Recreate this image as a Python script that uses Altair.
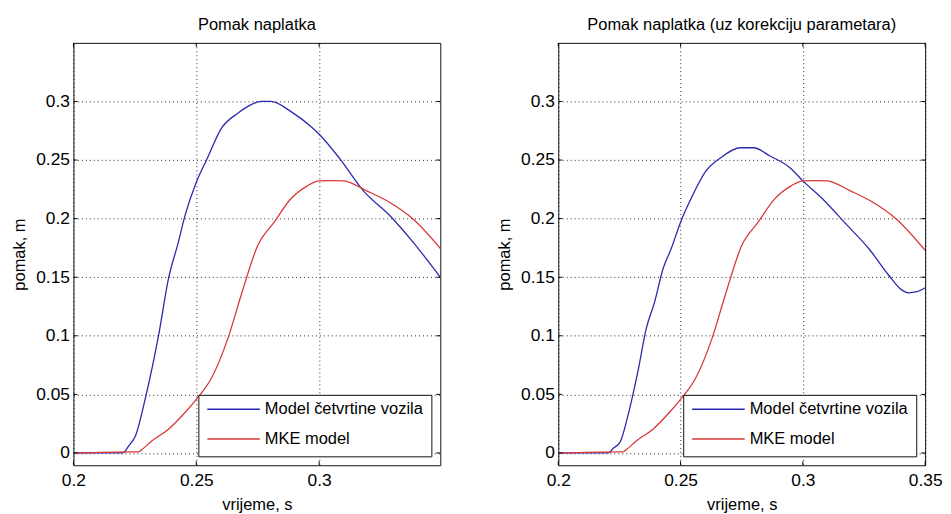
import altair as alt
import pandas as pd

FONT = "Liberation Sans"
SERIES = ["Model četvrtine vozila", "MKE model"]
COLORS = ["#2a2aae", "#d83838"]

Y_TICKS = [0, 0.05, 0.1, 0.15, 0.2, 0.25, 0.3]
X_TICKS_LEFT = [0.2, 0.25, 0.3]
X_TICKS_RIGHT = [0.2, 0.25, 0.3, 0.35]
Y_DOMAIN = [-0.0105, 0.35]
X_MAX_LEFT = 0.3493
X_MAX_RIGHT = 0.35

# Left panel, blue (Model četvrtine vozila)
blue_left_t = [0.200, 0.220, 0.2225, 0.2253, 0.2293, 0.2347, 0.2387, 0.2427, 0.2454, 0.2500,
               0.2543, 0.2602, 0.2669, 0.2710, 0.2763, 0.2804, 0.2884, 0.2965, 0.3000, 0.3086,
               0.3180, 0.3288, 0.3382, 0.3493]
blue_left_y = [0.0, 0.0, 0.006, 0.015, 0.047, 0.101, 0.149, 0.180, 0.2025, 0.231,
               0.2506, 0.277, 0.290, 0.2958, 0.300, 0.300, 0.2915, 0.2788, 0.272, 0.2506,
               0.2237, 0.2025, 0.180, 0.150]

# Right panel, blue (after parameter correction)
blue_right_t = [0.200, 0.2205, 0.2225, 0.2252, 0.2286, 0.2326, 0.2360, 0.2394, 0.2428, 0.2461,
                0.2500, 0.2542, 0.2604, 0.2664, 0.2745, 0.2799, 0.2866, 0.2947, 0.3000, 0.3081,
                0.3176, 0.3270, 0.3351, 0.3405, 0.3432, 0.3466, 0.3500]
blue_right_y = [0.0, 0.0, 0.004, 0.009, 0.033, 0.070, 0.1065, 0.129, 0.157, 0.174,
                0.197, 0.2167, 0.2407, 0.252, 0.2605, 0.2605, 0.2534, 0.2435, 0.2322, 0.2167,
                0.1955, 0.1743, 0.1517, 0.139, 0.1367, 0.1376, 0.141]

# Red (MKE model), same in both panels
red_t = [0.200, 0.2245, 0.2265, 0.2273, 0.2320, 0.2387, 0.2454, 0.2500, 0.2562, 0.2629,
         0.2683, 0.2750, 0.2817, 0.2884, 0.2952, 0.3000, 0.3050, 0.3099, 0.3194, 0.3288,
         0.3382, 0.3500]
red_y = [0.0, 0.001, 0.001, 0.002, 0.0105, 0.0203, 0.0345, 0.0458, 0.064, 0.098,
         0.135, 0.177, 0.197, 0.2167, 0.228, 0.2322, 0.2325, 0.2322, 0.2237, 0.2138,
         0.1997, 0.1729]

W, H = 370, 426
TICK = 4


def panel(title, bt, by, rt, ry, xmax, xticks):
    rows = []
    for i, (t, y) in enumerate(zip(bt, by)):
        rows.append({"t": t, "y": y, "series": SERIES[0], "ord": i})
    for i, (t, y) in enumerate(zip(rt, ry)):
        rows.append({"t": t, "y": y, "series": SERIES[1], "ord": i})
    df = pd.DataFrame(rows)
    xscale = alt.Scale(domain=[0.2, xmax], nice=False, zero=False)
    yscale = alt.Scale(domain=Y_DOMAIN, nice=False, zero=False)
    xaxis = alt.Axis(values=xticks, format=".2~f", title="vrijeme, s")
    yaxis = alt.Axis(values=Y_TICKS, format=".2~f", title="pomak, m")

    lines = alt.Chart(df).mark_line(strokeWidth=1.3, clip=True, interpolate="monotone").encode(
        x=alt.X("t:Q", scale=xscale, axis=xaxis),
        y=alt.Y("y:Q", scale=yscale, axis=yaxis),
        color=alt.Color("series:N", scale=alt.Scale(domain=SERIES, range=COLORS),
                        title=None,
                        legend=alt.Legend(orient="bottom-right", offset=9,
                                          strokeColor="#111111", fillColor="white",
                                          padding=8, symbolType="stroke",
                                          symbolSize=2809, symbolStrokeWidth=1.3,
                                          clipHeight=13, rowPadding=12,
                                          labelFontSize=16.6, labelOffset=4,
                                          labelLimit=400, labelFont=FONT,
                                          labelColor="black")),
        order="ord:Q",
    )

    ydf = pd.DataFrame({"y": Y_TICKS})
    xdf = pd.DataFrame({"t": xticks})
    yl = alt.Chart(ydf).mark_rule(color="black", strokeWidth=1).encode(
        y=alt.Y("y:Q", scale=yscale, axis=yaxis), x=alt.value(0), x2=alt.value(TICK))
    yr = alt.Chart(ydf).mark_rule(color="black", strokeWidth=1).encode(
        y=alt.Y("y:Q", scale=yscale, axis=yaxis), x=alt.value(W - TICK), x2=alt.value(W))
    xb = alt.Chart(xdf).mark_rule(color="black", strokeWidth=1).encode(
        x=alt.X("t:Q", scale=xscale, axis=xaxis), y=alt.value(H - TICK), y2=alt.value(H))
    xt = alt.Chart(xdf).mark_rule(color="black", strokeWidth=1).encode(
        x=alt.X("t:Q", scale=xscale, axis=xaxis), y=alt.value(0), y2=alt.value(TICK))

    return alt.layer(lines, yl, yr, xb, xt).properties(
        width=W, height=H,
        title=alt.TitleParams(title, fontSize=16.6, fontWeight="normal", font=FONT,
                              color="black", offset=8.5),
    )


left = panel("Pomak naplatka", blue_left_t, blue_left_y, red_t, red_y, X_MAX_LEFT, X_TICKS_LEFT)
right = panel("Pomak naplatka (uz korekciju parametara)", blue_right_t, blue_right_y,
              red_t, red_y, X_MAX_RIGHT, X_TICKS_RIGHT)

chart = alt.hconcat(left, right, spacing=55).resolve_legend(color="independent").properties(
    padding={"left": 3, "top": 6, "right": 0, "bottom": 0},
    background="white",
).configure_view(
    stroke="#111111", strokeWidth=1
).configure_axis(
    labelFont=FONT, titleFont=FONT, labelFontSize=17.5, titleFontSize=16.6,
    labelColor="black", titleColor="black", titleFontWeight="normal",
    ticks=False, domain=False, labelFlush=False,
    grid=True, gridColor="#000000", gridDash=[1, 3], gridOpacity=0.85, gridWidth=1,
).configure_axisY(
    labelPadding=4, titlePadding=8,
).configure_axisX(
    labelPadding=6, titlePadding=8,
)

chart.save("out.html", embed_options={"renderer": "svg", "actions": False})
